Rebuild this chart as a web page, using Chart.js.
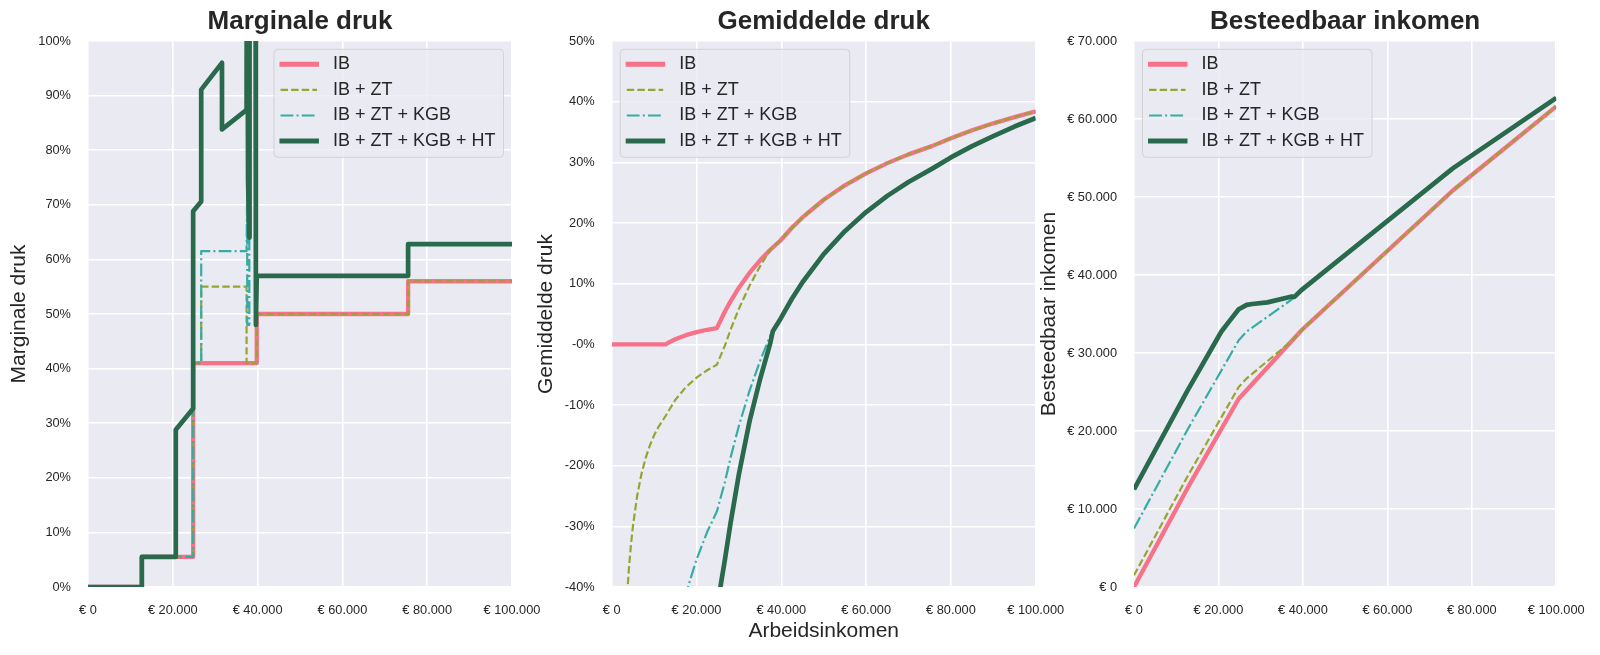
<!DOCTYPE html>
<html>
<head>
<meta charset="utf-8">
<script src="https://cdn.jsdelivr.net/npm/chart.js@4.4.0/dist/chart.umd.min.js"></script>
<style>
  body { margin: 0; background: #fff; }
  #wrap { position: relative; width: 1600px; height: 655px; }
  canvas { position: absolute; left: 0; top: 0; }
</style>
</head>
<body>
<div id="wrap">
  <canvas id="marginal" width="1600" height="655"></canvas>
  <canvas id="average" width="1600" height="655"></canvas>
  <canvas id="disposable" width="1600" height="655"></canvas>
</div>
<script>
// ---- data ----
const seriesNames = ['IB', 'IB + ZT', 'IB + ZT + KGB', 'IB + ZT + KGB + HT'];

const incomeTicks = [0, 20000, 40000, 60000, 80000, 100000];
const incomeTickLabels = ['€ 0', '€ 20.000', '€ 40.000', '€ 60.000', '€ 80.000', '€ 100.000'];

const marginalTicks = [0, 10, 20, 30, 40, 50, 60, 70, 80, 90, 100];
const marginalTickLabels = ['0%', '10%', '20%', '30%', '40%', '50%', '60%', '70%', '80%', '90%', '100%'];

const averageTicks = [-40, -30, -20, -10, 0, 10, 20, 30, 40, 50];
const averageTickLabels = ['-40%', '-30%', '-20%', '-10%', '-0%', '10%', '20%', '30%', '40%', '50%'];

const disposableTicks = [0, 10000, 20000, 30000, 40000, 50000, 60000, 70000];
const disposableTickLabels = ['€ 0', '€ 10.000', '€ 20.000', '€ 30.000', '€ 40.000', '€ 50.000', '€ 60.000', '€ 70.000'];

// marginale druk (%), [income, rate]
const marginalIB = [[0,0],[12700,0],[12700,5.5],[24800,5.5],[24800,41],[39800,41],[39800,50],[75500,50],[75500,56],[100000,56]];
const marginalZT = [[0,0],[12700,0],[12700,5.5],[24800,5.5],[24800,41],[26700,41],[26700,55],[37400,55],[37400,41],[39800,41],[39800,50],[75500,50],[75500,56],[100000,56]];
const marginalKGB = [[0,0],[12700,0],[12700,5.5],[24800,5.5],[24800,41],[26700,41],[26700,61.5],[37400,61.5],[37550,74.3],[37550,48],[38050,48],[38050,64],[38100,140],[39500,140],[39600,48],[39800,57],[75500,57],[75500,62.8],[100000,62.8]];
const marginalHT = [[0,0],[12700,0],[12700,5.5],[20700,5.5],[20700,28.8],[24800,32.7],[24800,68.8],[26700,70.6],[26700,91.1],[31600,96],[31600,83.8],[37400,87.4],[37500,140],[37700,140],[37750,74.4],[38050,64],[38100,140],[39500,140],[39600,48],[39800,57],[75500,57],[75500,62.8],[100000,62.8]];

// gemiddelde druk (%), [income, rate]
const averageIB = [[0,0],[12700,0],[13500,0.33],[15000,0.84],[17500,1.51],[20000,2.01],[22500,2.40],[24800,2.68],[26700,5.41],[28000,7.06],[30000,9.33],[32500,11.76],[35000,13.85],[37400,15.59],[39800,17.12],[42500,19.21],[45000,20.92],[50000,23.83],[55000,26.21],[60000,28.19],[65000,29.87],[70000,31.31],[75500,32.67],[80000,33.98],[85000,35.28],[90000,36.43],[95000,37.46],[100000,38.39]];
const averageZT = [[3000,-50],[3500,-42.86],[4000,-37.5],[4500,-33.33],[5000,-30],[6000,-25],[7000,-21.43],[8000,-18.75],[9000,-16.67],[10000,-15],[11000,-13.64],[12700,-11.81],[15000,-9.16],[17500,-7.06],[20000,-5.49],[22500,-4.27],[24800,-3.36],[26700,-0.21],[28000,2.36],[30000,5.87],[32500,9.64],[35000,12.88],[37400,15.59],[39800,17.12],[42500,19.21],[45000,20.92],[50000,23.83],[55000,26.21],[60000,28.19],[65000,29.87],[70000,31.31],[75500,32.67],[80000,33.98],[85000,35.28],[90000,36.43],[95000,37.46],[100000,38.39]];
const averageKGB = [[12700,-59.06],[15000,-49.16],[16000,-45.74],[17500,-41.35],[18500,-38.82],[20000,-35.49],[22500,-30.94],[24800,-27.56],[26700,-22.68],[28000,-18.77],[30000,-13.42],[32500,-7.66],[35000,-2.72],[37400,1.41],[38000,2.14],[39800,4.19],[42500,7.51],[45000,10.23],[50000,14.86],[55000,18.65],[60000,21.8],[65000,24.47],[70000,26.76],[75500,28.92],[80000,30.81],[85000,32.68],[90000,34.33],[95000,35.9],[100000,37.3]];
const averageHT = [[20700,-58.26],[22500,-51.24],[24800,-43.55],[26700,-35.49],[28000,-29.59],[30000,-21.41],[32500,-12.72],[35000,-5.72],[37400,0.2],[38000,2.14],[39800,4.19],[42500,7.51],[45000,10.23],[50000,14.86],[55000,18.65],[60000,21.8],[65000,24.47],[70000,26.76],[75500,28.92],[80000,30.81],[85000,32.68],[90000,34.33],[95000,35.9],[100000,37.3]];

// besteedbaar inkomen (€), [income, disposable]
const disposableIB = [[0,0],[12700,12700],[24800,24135],[39800,32985],[75500,50835],[100000,61615]];
const disposableZT = [[0,1500],[12700,14200],[24800,25635],[26700,26756],[37400,31569],[39800,32985],[75500,50835],[100000,61615]];
const disposableKGB = [[0,7500],[12700,20200],[24800,31635],[26700,32756],[37400,36873],[38000,37200],[39800,38133],[75500,53663],[100000,62700]];
const disposableHT = [[0,12500],[12700,25200],[20700,32760],[22500,34029],[24800,35600],[26700,36176],[28000,36286],[31600,36492],[37400,37250],[38000,37200],[39800,38133],[75500,53663],[100000,62700]];

// ---- styling ----
const FONT = '"Liberation Sans", Arial, sans-serif';
const TEXT = '#262626';
Chart.defaults.font.family = FONT;
Chart.defaults.color = TEXT;

const seriesColors = ['#f77189', '#97a431', '#36ada4', '#2a6a4c'];
const seriesWidths = [4.3, 2.2, 2.2, 4.7];
const seriesDashes = [[], [7.4, 3.2], [12.8, 3.2, 2, 3.2], []];

const plotBackground = {
  id: 'plotBackground',
  beforeDraw(chart) {
    const { ctx, chartArea: a } = chart;
    ctx.save();
    ctx.fillStyle = '#eaeaf2';
    ctx.fillRect(a.left, a.top, a.right - a.left, a.bottom - a.top);
    ctx.restore();
  }
};

// matplotlib-like legend box inside the plot
const boxedLegend = {
  id: 'boxedLegend',
  afterDatasetsDraw(chart, args, opts) {
    const { ctx, chartArea: a } = chart;
    const sets = chart.data.datasets;
    ctx.save();
    ctx.font = '18px ' + FONT;
    const textW = Math.max(...sets.map(d => ctx.measureText(d.label).width));
    const w = 59 + textW + 8;
    const h = 108;
    const x = opts.side === 'right' ? a.right - 8.5 - w : a.left + 8.5;
    const y = a.top + 8.3;
    ctx.beginPath();
    ctx.roundRect(x, y, w, h, 4);
    ctx.fillStyle = 'rgba(234,234,242,0.8)';
    ctx.fill();
    ctx.strokeStyle = 'rgba(204,204,204,0.8)';
    ctx.lineWidth = 1;
    ctx.stroke();
    sets.forEach((d, i) => {
      const cy = y + 15 + i * 25.6;
      const dashed = d.borderDash && d.borderDash.length;
      ctx.beginPath();
      ctx.setLineDash(d.borderDash || []);
      ctx.lineCap = dashed ? 'butt' : 'square';
      ctx.strokeStyle = d.borderColor;
      ctx.lineWidth = dashed ? d.borderWidth : 5;
      ctx.moveTo(x + (dashed ? 6.6 : 8), cy);
      ctx.lineTo(x + (dashed ? 43 : 42.5), cy);
      ctx.stroke();
      ctx.setLineDash([]);
      ctx.fillStyle = TEXT;
      ctx.textBaseline = 'middle';
      ctx.fillText(d.label, x + 59, cy);
    });
    ctx.restore();
  }
};

function makeChart(id, o) {
  const ctx = document.getElementById(id).getContext('2d');
  return new Chart(ctx, {
    type: 'line',
    data: {
      datasets: o.series.map((s, i) => ({
        label: seriesNames[i],
        data: s.map(p => ({ x: p[0], y: p[1] })),
        borderColor: seriesColors[i],
        borderWidth: seriesWidths[i],
        borderDash: seriesDashes[i],
        borderJoinStyle: 'round',
        pointRadius: 0,
        tension: 0,
        fill: false,
        order: 3 - i
      }))
    },
    options: {
      responsive: false,
      animation: false,
      events: [],
      layout: { padding: { left: o.padLeft, right: o.padRight, top: 0, bottom: 0 } },
      plugins: {
        legend: { display: false },
        tooltip: { enabled: false },
        title: {
          display: true,
          text: o.title,
          fullSize: false,
          color: TEXT,
          font: { size: 26, weight: 'bold' },
          padding: { top: 6.4, bottom: 3.4 }
        },
        boxedLegend: { side: o.legendSide }
      },
      scales: {
        x: {
          type: 'linear',
          min: 0,
          max: 100000,
          afterBuildTicks: ax => { ax.ticks = incomeTicks.map(v => ({ value: v })); },
          afterFit: ax => { ax.height = 68; },
          ticks: {
            callback: (v, i) => incomeTickLabels[i],
            font: { size: 12.8 },
            color: TEXT,
            padding: 15.3,
            maxRotation: 0,
            autoSkip: false
          },
          grid: { color: '#ffffff', lineWidth: 1.6, drawTicks: false },
          border: { display: false },
          title: {
            display: !!o.xTitle,
            text: o.xTitle || '',
            color: TEXT,
            font: { size: 21 },
            padding: { top: 0, bottom: 10.7 }
          }
        },
        y: {
          type: 'linear',
          min: o.yTicks[0],
          max: o.yTicks[o.yTicks.length - 1],
          afterBuildTicks: ax => { ax.ticks = o.yTicks.map(v => ({ value: v })); },
          afterFit: ax => { ax.width = o.yWidth; },
          ticks: {
            callback: (v, i) => o.yLabels[i],
            font: { size: 12.8 },
            color: TEXT,
            padding: 17,
            autoSkip: false
          },
          grid: { color: '#ffffff', lineWidth: 1.6, drawTicks: false },
          border: { display: false },
          title: {
            display: true,
            text: o.yTitle,
            color: TEXT,
            font: { size: 21 },
            padding: 0
          }
        }
      }
    },
    plugins: [plotBackground, boxedLegend]
  });
}

makeChart('marginal', {
  title: 'Marginale druk',
  yTitle: 'Marginale druk',
  series: [marginalIB, marginalZT, marginalKGB, marginalHT],
  yTicks: marginalTicks,
  yLabels: marginalTickLabels,
  padLeft: 7, yWidth: 81, padRight: 1088,
  legendSide: 'right'
});

makeChart('average', {
  title: 'Gemiddelde druk',
  yTitle: 'Gemiddelde druk',
  xTitle: 'Arbeidsinkomen',
  series: [averageIB, averageZT, averageKGB, averageHT],
  yTicks: averageTicks,
  yLabels: averageTickLabels,
  padLeft: 533.7, yWidth: 78, padRight: 564.3,
  legendSide: 'left'
});

makeChart('disposable', {
  title: 'Besteedbaar inkomen',
  yTitle: 'Besteedbaar inkomen',
  series: [disposableIB, disposableZT, disposableKGB, disposableHT],
  yTicks: disposableTicks,
  yLabels: disposableTickLabels,
  padLeft: 1036.4, yWidth: 97.6, padRight: 42,
  legendSide: 'left'
});
</script>
</body>
</html>
